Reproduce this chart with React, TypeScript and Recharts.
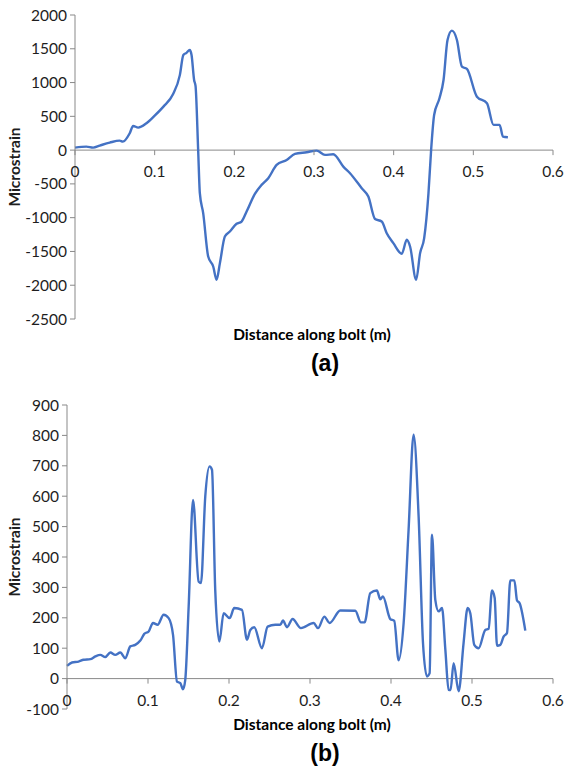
import React from 'react';
import { LineChart, Line, XAxis, YAxis, ReferenceLine } from 'recharts';

// Panel (a): strain profile along the bolt
const distA = [
  0, 0.0143, 0.0228, 0.031, 0.0436, 0.056, 0.06, 0.0687, 0.073, 0.0793, 0.0897, 0.1, 0.111, 0.123,
  0.1316, 0.136, 0.14, 0.144, 0.1463, 0.1495, 0.1513, 0.1546, 0.1567, 0.1609, 0.1672, 0.1735, 0.1777,
  0.1819, 0.1881, 0.1944, 0.2028, 0.2091, 0.2154, 0.2258, 0.2342, 0.2426, 0.2531, 0.2657, 0.2761,
  0.2908, 0.3034, 0.3138, 0.3242, 0.3368, 0.3452, 0.3599, 0.3682, 0.3766, 0.385, 0.3913, 0.3996,
  0.4102, 0.4165, 0.4206, 0.4282, 0.4332, 0.4383, 0.4437, 0.447, 0.4508, 0.4575, 0.4626, 0.4676,
  0.4731, 0.4794, 0.4857, 0.4919, 0.5045, 0.5171, 0.5254, 0.533, 0.5372, 0.5434,
];
const strainA = [
  37, 52, 37, 67, 111, 140, 125, 250, 358, 333, 398, 510, 644, 826,
  1110, 1408, 1440, 1482, 1408, 1038, 950, 0, -637, -933, -1575, -1723, -1920,
  -1673, -1279, -1205, -1091, -1057, -909, -648, -515, -416, -219, -145, -56,
  -31, -7, -71, -61, -244, -342, -564, -688, -1020, -1057, -1230, -1377,
  -1535, -1328, -1427, -1920, -1525, -1303, -637, 0, 520, 767, 1038, 1630,
  1768, 1630, 1235, 1201, 791, 694, 373, 373, 200, 191,
];
const ticksYA = [2000, 1500, 1000, 500, 0, -500, -1000, -1500, -2000, -2500];

// Panel (b): strain profile along the bolt
const distB = [
  0, 0.0062, 0.0143, 0.0205, 0.0288, 0.035, 0.0411, 0.0473, 0.0535, 0.0596, 0.0658, 0.072, 0.0781,
  0.0843, 0.0905, 0.0954, 0.1008, 0.1062, 0.1119, 0.1193, 0.1255, 0.1309, 0.1358, 0.1399, 0.1432,
  0.146, 0.1502, 0.1556, 0.1625, 0.1654, 0.1707, 0.176, 0.179, 0.183, 0.1881, 0.1934, 0.2008, 0.2065,
  0.216, 0.2222, 0.2263, 0.2312, 0.2407, 0.2477, 0.2571, 0.2633, 0.2666, 0.2716, 0.2785, 0.2888,
  0.3045, 0.3099, 0.3177, 0.3242, 0.3374, 0.3559, 0.3629, 0.3674, 0.3744, 0.3826, 0.3868, 0.39,
  0.3991, 0.404, 0.4094, 0.4156, 0.4217, 0.4279, 0.4341, 0.4395, 0.4444, 0.4477, 0.4506, 0.4547,
  0.4588, 0.463, 0.4671, 0.4711, 0.4735, 0.4773, 0.4835, 0.4896, 0.4946, 0.4979, 0.5028, 0.5082,
  0.5164, 0.5205, 0.5247, 0.528, 0.5309, 0.535, 0.539, 0.5432, 0.5473, 0.5523, 0.5556, 0.5588, 0.5658,
];
const strainB = [
  42, 53, 56, 62, 64, 73, 78, 71, 86, 78, 86, 67, 106,
  111, 125, 147, 155, 183, 177, 210, 199, 144, -10, -15, -35,
  -4, 237, 588, 319, 314, 599, 698, 687, 292, 122, 215, 199, 232,
  226, 128, 160, 169, 100, 171, 177, 177, 191, 169, 196, 166,
  183, 166, 204, 183, 224, 223, 185, 185, 281, 290, 261, 270,
  196, 190, 60, 183, 489, 802, 533, 117, 7, 18, 473, 259,
  221, 232, 95, -37, -38, 51, -42, 117, 232, 215, 111, 100,
  160, 164, 290, 265, 108, 111, 138, 150, 323, 323, 257, 248, 158,
];
const ticksYB = [900, 800, 700, 600, 500, 400, 300, 200, 100, 0, -100];

const ticksX = [0, 0.1, 0.2, 0.3, 0.4, 0.5, 0.6];

const lineColor = '#4472C4';
const axisColor = '#898989';
const textColor = '#1e1e1e';
const tickFont = 'Lato, "Open Sans", sans-serif';

const W = 565;
const H = 340;
const TOP = 15;
const BOTTOM = 20;
const X_AXIS_H = 1;

type PanelProps = {
  dist: number[];
  strain: number[];
  yTicks: number[];
  yAxisWidth: number;
  label: string;
  top: number;
};

const Panel = ({ dist, strain, yTicks, yAxisWidth, label, top }: PanelProps) => {
  const data = dist.map((d, i) => ({ d, s: strain[i] }));
  const yMax = Math.max(...yTicks);
  const yMin = Math.min(...yTicks);
  const plotH = H - TOP - BOTTOM - X_AXIS_H;
  // the category axis crosses the value axis at zero
  const zeroY = TOP + (plotH * yMax) / (yMax - yMin);

  const renderXTick = (props: any) => {
    const { x, payload, index } = props;
    return (
      <g key={`xt-${index}`}>
        <line x1={x} x2={x} y1={zeroY} y2={zeroY + 5} stroke={axisColor} strokeWidth={1} />
        <text
          x={x}
          y={zeroY + 27}
          textAnchor="middle"
          fill={textColor}
          fontFamily={tickFont}
          fontSize={15.5}
        >
          {payload.value}
        </text>
      </g>
    );
  };

  return (
    <div style={{ position: 'absolute', left: 0, top, width: W, height: H + 45 }}>
      <LineChart
        width={W}
        height={H}
        data={data}
        margin={{ top: TOP, right: 12, bottom: BOTTOM, left: 0 }}
      >
        <XAxis
          dataKey="d"
          type="number"
          domain={[0, 0.6]}
          ticks={ticksX}
          height={X_AXIS_H}
          axisLine={false}
          tickLine={false}
          tick={renderXTick}
          interval={0}
        />
        <YAxis
          type="number"
          domain={[yMin, yMax]}
          ticks={yTicks}
          width={yAxisWidth}
          interval={0}
          axisLine={{ stroke: axisColor }}
          tickLine={{ stroke: axisColor }}
          tickSize={5}
          tickMargin={3}
          tick={{ fill: textColor, fontFamily: tickFont, fontSize: 15.5 }}
        />
        <ReferenceLine y={0} stroke={axisColor} strokeWidth={1} />
        <Line
          type="monotone"
          dataKey="s"
          stroke={lineColor}
          strokeWidth={2.4}
          dot={false}
          isAnimationActive={false}
        />
      </LineChart>
      <div
        style={{
          position: 'absolute',
          left: 0,
          top: TOP + plotH / 2 - 60,
          width: 28,
          height: 120,
          display: 'flex',
          alignItems: 'center',
          justifyContent: 'center',
        }}
      >
        <div
          style={{
            transform: 'rotate(-90deg)',
            whiteSpace: 'nowrap',
            fontFamily: tickFont,
            fontWeight: 700,
            fontSize: 15.5,
            color: textColor,
          }}
        >
          Microstrain
        </div>
      </div>
      <div
        style={{
          position: 'absolute',
          left: 312 - 120,
          width: 240,
          top: 325,
          textAlign: 'center',
          fontFamily: tickFont,
          fontWeight: 700,
          fontSize: 15.5,
          color: '#000',
        }}
      >
        Distance along bolt (m)
      </div>
      <div
        style={{
          position: 'absolute',
          left: 325 - 40,
          width: 80,
          top: 350,
          textAlign: 'center',
          fontFamily: '"Liberation Sans", Arial, sans-serif',
          fontWeight: 700,
          fontSize: 23,
          color: '#000',
        }}
      >
        {label}
      </div>
    </div>
  );
};

export default function App() {
  return (
    <div style={{ position: 'absolute', left: 0, top: 0, width: W, height: 771, background: '#fff' }}>
      <Panel dist={distA} strain={strainA} yTicks={ticksYA} yAxisWidth={75} label="(a)" top={0} />
      <Panel dist={distB} strain={strainB} yTicks={ticksYB} yAxisWidth={67} label="(b)" top={390} />
    </div>
  );
}
